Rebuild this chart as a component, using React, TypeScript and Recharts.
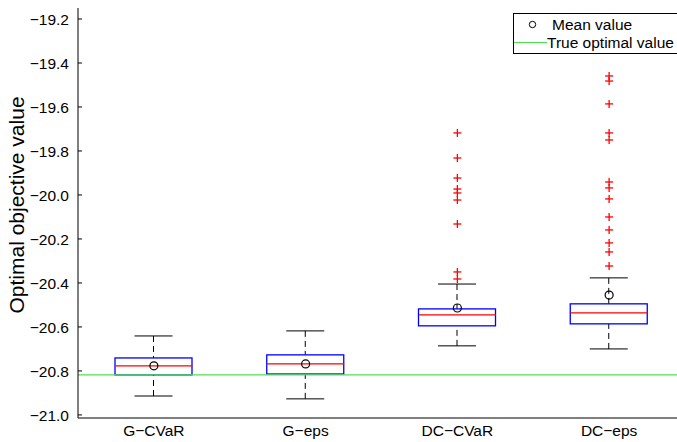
import React from "react";
import {
  Bar,
  ComposedChart,
  Label,
  ReferenceLine,
  Scatter,
  XAxis,
  YAxis,
} from "recharts";

// categories and box statistics
const categories = ["G\u2212CVaR", "G\u2212eps", "DC\u2212CVaR", "DC\u2212eps"];
const whiskerLow = [-20.914, -20.927, -20.686, -20.7];
const quartile1 = [-20.818, -20.814, -20.595, -20.586];
const medians = [-20.777, -20.768, -20.545, -20.536];
const quartile3 = [-20.741, -20.727, -20.518, -20.495];
const whiskerHigh = [-20.641, -20.618, -20.405, -20.377];
const means = [-20.777, -20.768, -20.514, -20.455];

const outliersDcCvar = [
  -19.718, -19.832, -19.923, -19.973, -19.991, -20.023, -20.132, -20.35, -20.382,
];
const outliersDcEps = [
  -19.459, -19.482, -19.586, -19.718, -19.75, -19.941, -19.968, -20.018, -20.1,
  -20.159, -20.218, -20.259, -20.323,
];

const trueOptimal = -20.818;
const yTicks = [-21.0, -20.8, -20.6, -20.4, -20.2, -20.0, -19.8, -19.6, -19.4, -19.2];

const rows = categories.map((name, i) => ({
  name,
  box: [quartile1[i], quartile3[i]],
  up: [quartile3[i], whiskerHigh[i]],
  lo: [whiskerLow[i], quartile1[i]],
  median: medians[i],
  mean: means[i],
}));

const outliers = [
  ...outliersDcCvar.map((v) => ({ x: 3, y: v })),
  ...outliersDcEps.map((v) => ({ x: 4, y: v })),
];

const FONT = '"Liberation Sans", Arial, Helvetica, sans-serif';
const GREEN = "#4ee24e";
const BOX_W = 77;
const CAP_W = 38;
const AXIS_FS = 15.5;

const minus = (v: number) => v.toFixed(1).replace("-", "\u2212");

function YTick(props: any) {
  const { x, y, payload } = props;
  return (
    <g>
      <text x={x} y={y} dy="0.36em" textAnchor="end" fontSize={AXIS_FS} fontFamily={FONT} fill="#000">
        {minus(payload.value)}
      </text>
      <line x1={x + 9} x2={x + 13} y1={y} y2={y} stroke="#000" />
    </g>
  );
}

function span(p: any) {
  const top = Math.min(p.y, p.y + p.height);
  return { top, bottom: top + Math.abs(p.height), cx: p.x + p.width / 2 };
}

function BoxShape(p: any) {
  const { top, bottom } = span(p);
  return (
    <rect x={p.x} y={top} width={p.width} height={bottom - top} fill="none" stroke="#0000ff" strokeWidth={1.3} />
  );
}

function UpperWhisker(p: any) {
  const { top, bottom, cx } = span(p);
  return (
    <g>
      <line x1={cx} x2={cx} y1={top} y2={bottom} stroke="#000" strokeDasharray="6 4" />
      <line x1={cx - CAP_W / 2} x2={cx + CAP_W / 2} y1={top} y2={top} stroke="#000" />
    </g>
  );
}

function LowerWhisker(p: any) {
  const { top, bottom, cx } = span(p);
  return (
    <g>
      <line x1={cx} x2={cx} y1={bottom} y2={top} stroke="#000" strokeDasharray="6 4" />
      <line x1={cx - CAP_W / 2} x2={cx + CAP_W / 2} y1={bottom} y2={bottom} stroke="#000" />
    </g>
  );
}

const MedianLine = (p: any) => (
  <line x1={p.cx - BOX_W / 2} x2={p.cx + BOX_W / 2} y1={p.cy} y2={p.cy} stroke="#ff0000" strokeWidth={1.2} />
);

const MeanDot = (p: any) => (
  <circle cx={p.cx} cy={p.cy} r={4} fill="none" stroke="#000" strokeWidth={1.2} />
);

const Plus = (p: any) => (
  <g stroke="#ff0000" strokeWidth={1.3}>
    <line x1={p.cx - 4} x2={p.cx + 4} y1={p.cy} y2={p.cy} />
    <line x1={p.cx} x2={p.cx} y1={p.cy - 4} y2={p.cy + 4} />
  </g>
);

function YLabel(props: any) {
  const vb = props.viewBox || { y: 8, height: 410 };
  const cy = vb.y + vb.height / 2 - 8;
  return (
    <text
      x={16}
      y={cy}
      transform={`rotate(-90 16 ${cy})`}
      textAnchor="middle"
      dominantBaseline="central"
      fontSize={21}
      fontFamily={FONT}
      fill="#000"
    >
      Optimal objective value
    </text>
  );
}

function LegendBox() {
  return (
    <div
      style={{
        position: "absolute",
        left: 513,
        top: 13,
        width: 180,
        height: 39,
        border: "1px solid #000",
        background: "#fff",
        fontFamily: FONT,
        fontSize: 15.5,
        color: "#000",
      }}
    >
      <svg width={40} height={39} style={{ position: "absolute", left: 0, top: 0 }}>
        <circle cx={18.5} cy={10.5} r={3.2} fill="none" stroke="#000" />
        <line x1={0} x2={33} y1={28.5} y2={28.5} stroke={GREEN} strokeWidth={1.2} />
      </svg>
      <span style={{ position: "absolute", left: 38, top: 1, lineHeight: "19px" }}>Mean value</span>
      <span style={{ position: "absolute", left: 33, top: 19, lineHeight: "19px", whiteSpace: "nowrap" }}>
        True optimal value
      </span>
    </div>
  );
}

export default function App() {
  return (
    <div
      style={{
        position: "fixed",
        left: 0,
        top: 0,
        width: 677,
        height: 442,
        overflow: "hidden",
        background: "#fff",
      }}
    >
      <ComposedChart width={700} height={442} data={rows} margin={{ top: 8, right: 15, bottom: 4, left: 0 }}>
        <XAxis
          xAxisId="main"
          dataKey="name"
          height={20}
          tickLine={false}
          tickMargin={1}
          axisLine={{ stroke: "#000" }}
          tick={{ fontSize: AXIS_FS, fontFamily: FONT, fill: "#000" }}
          interval={0}
        />
        <XAxis xAxisId="box" dataKey="name" hide height={0} />
        <XAxis xAxisId="up" dataKey="name" hide height={0} />
        <XAxis xAxisId="lo" dataKey="name" hide height={0} />
        <XAxis xAxisId="num" dataKey="x" type="number" domain={[0.5, 4.5]} hide height={0} allowDataOverflow />
        <XAxis
          xAxisId="top"
          orientation="top"
          type="number"
          domain={[0.5, 4.5]}
          height={0}
          tick={false}
          tickLine={false}
          axisLine={{ stroke: "#000" }}
        />
        <YAxis
          type="number"
          width={78}
          domain={[-21.014, -19.15]}
          ticks={yTicks}
          allowDataOverflow
          interval={0}
          tickLine={false}
          tickSize={4}
          tickMargin={5}
          axisLine={{ stroke: "#000" }}
          tick={<YTick />}
        >
          <Label content={<YLabel />} />
        </YAxis>
        <ReferenceLine xAxisId="main" y={trueOptimal} stroke={GREEN} strokeWidth={1.2} />
        <Bar xAxisId="up" dataKey="up" barSize={BOX_W} shape={<UpperWhisker />} isAnimationActive={false} />
        <Bar xAxisId="lo" dataKey="lo" barSize={BOX_W} shape={<LowerWhisker />} isAnimationActive={false} />
        <Bar xAxisId="box" dataKey="box" barSize={BOX_W} shape={<BoxShape />} isAnimationActive={false} />
        <Scatter xAxisId="main" dataKey="median" shape={<MedianLine />} isAnimationActive={false} />
        <Scatter xAxisId="main" dataKey="mean" shape={<MeanDot />} isAnimationActive={false} />
        <Scatter xAxisId="num" data={outliers} dataKey="y" shape={<Plus />} isAnimationActive={false} />
      </ComposedChart>
      <LegendBox />
    </div>
  );
}
